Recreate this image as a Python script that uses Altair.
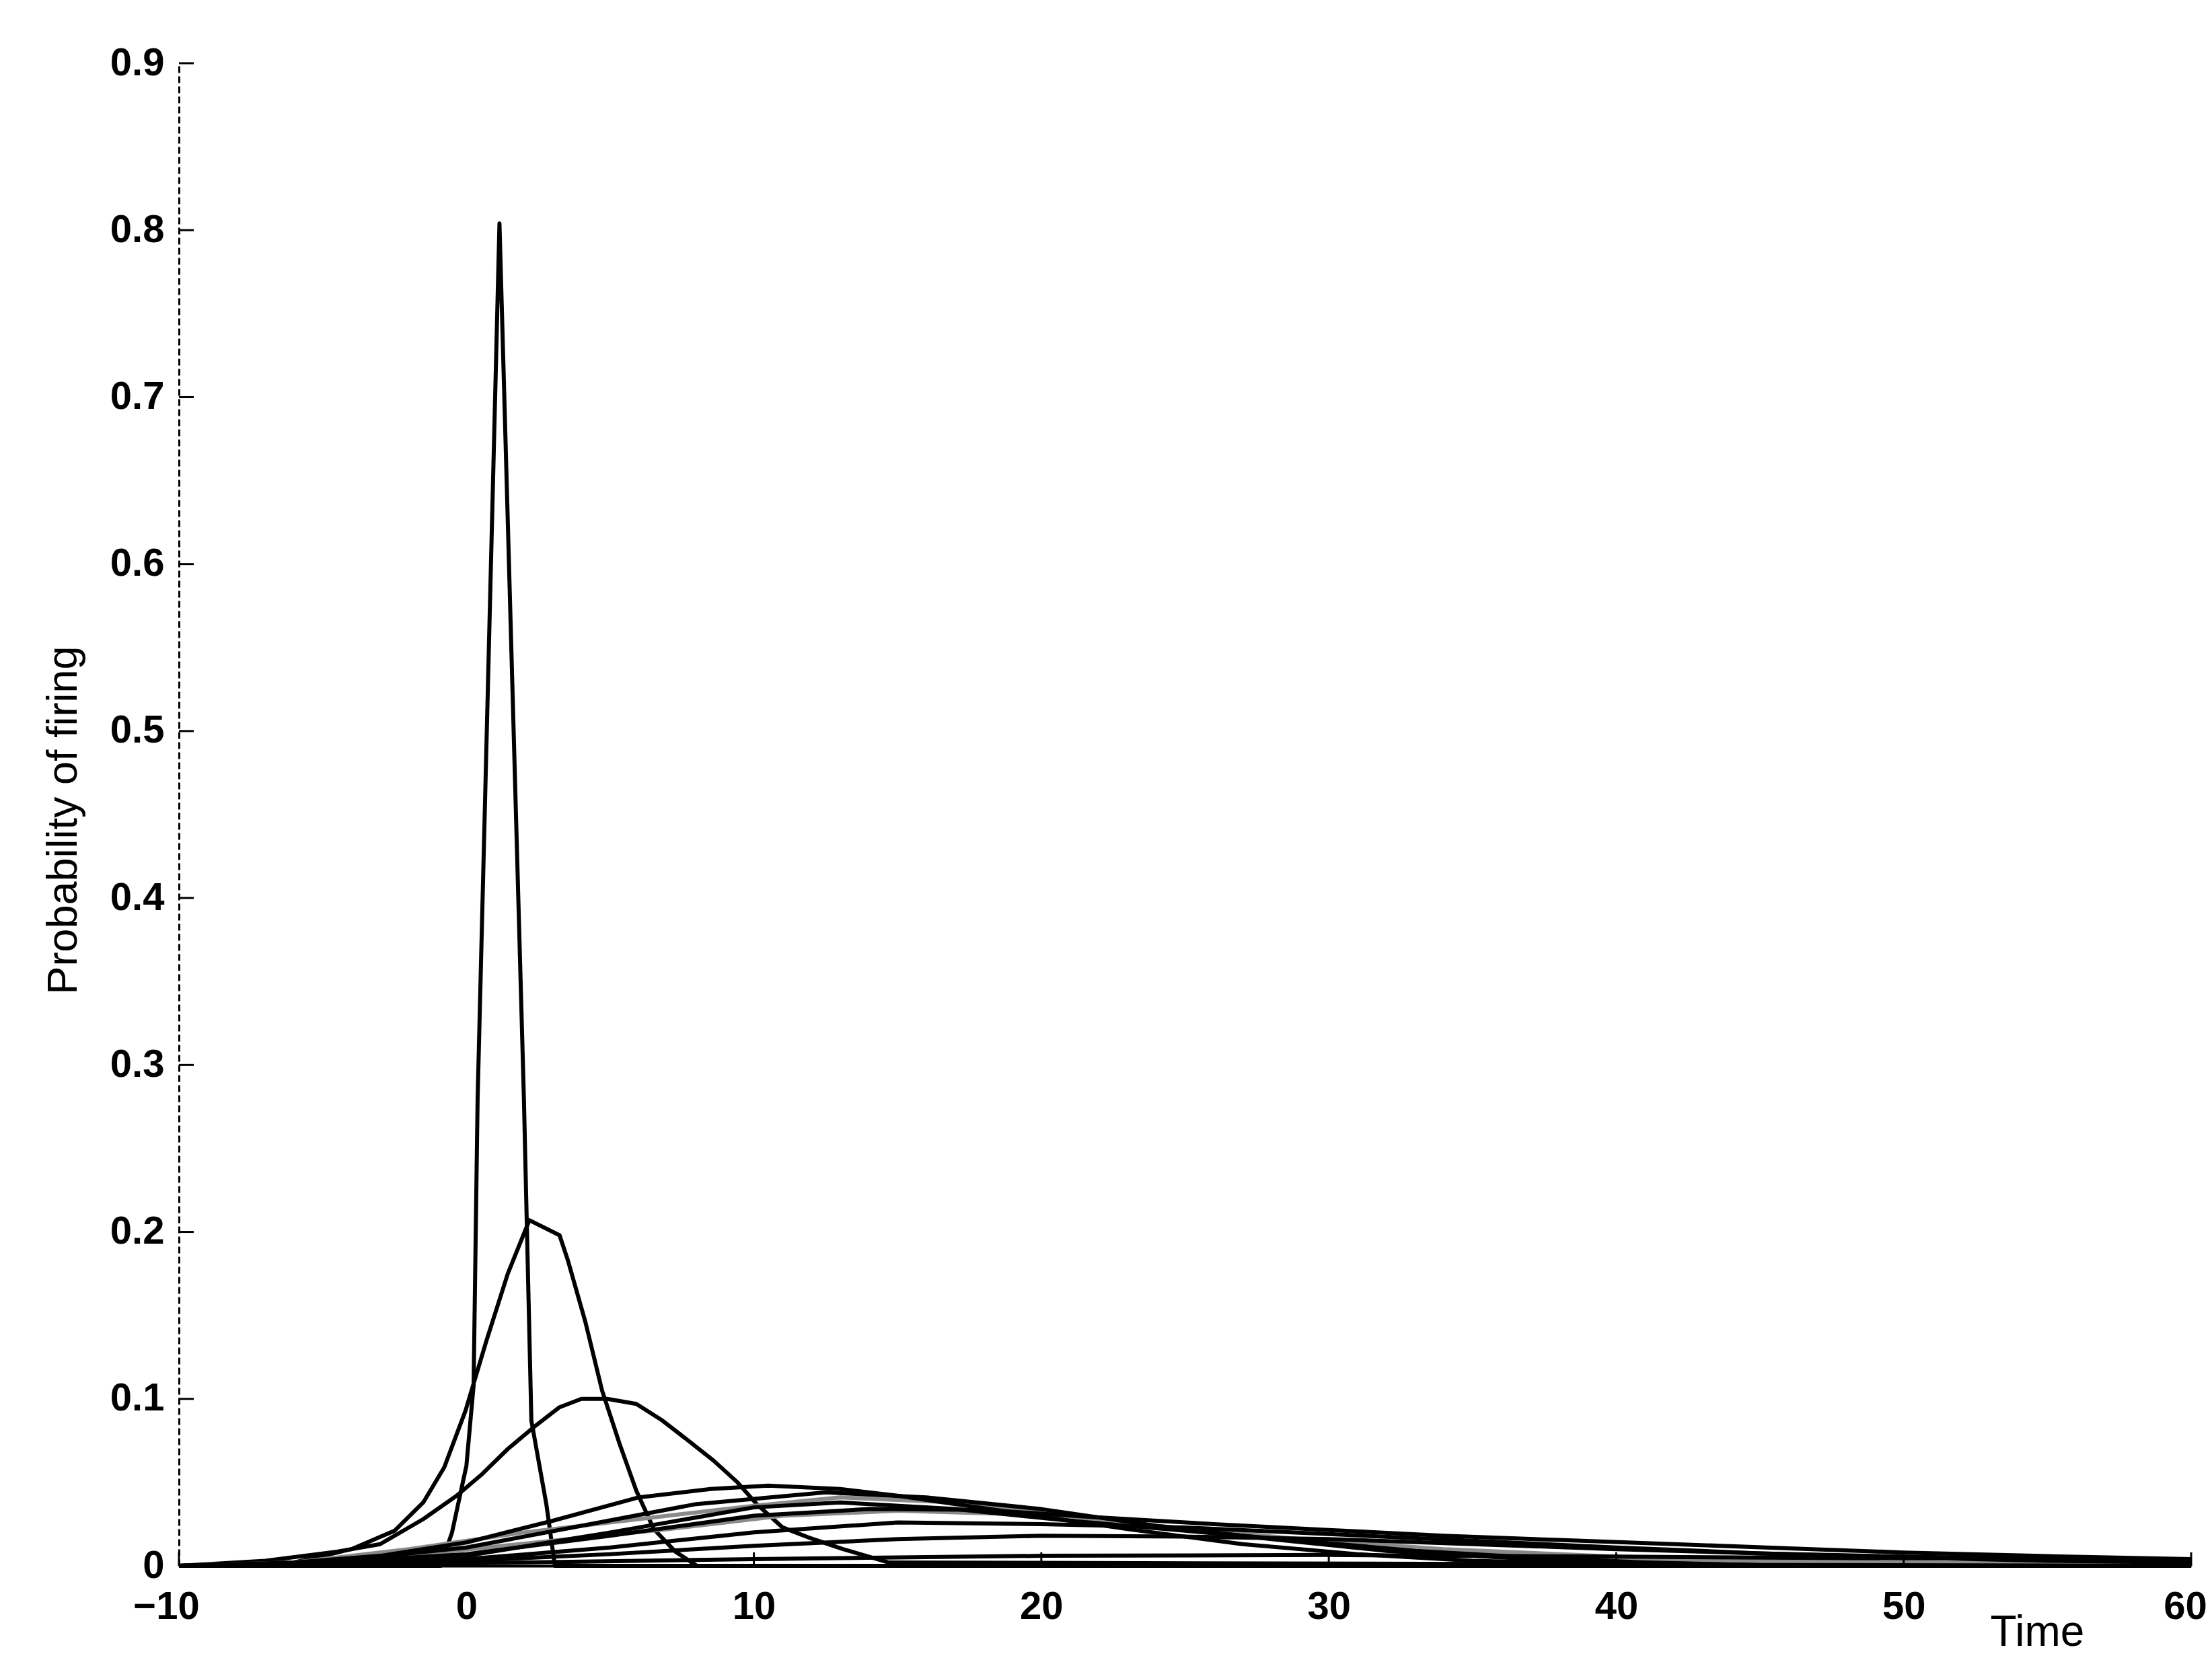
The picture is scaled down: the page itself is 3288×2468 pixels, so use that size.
import altair as alt
import pandas as pd

# ---- data (time, probability of firing) ----
spike_x = [-10, -0.9, -0.5, 0.0, 0.25, 0.39, 1.15, 2.0, 2.26, 2.78, 3.08, 60]
spike_y = [0, 0, 0.02, 0.06, 0.108, 0.28, 0.804, 0.28, 0.087, 0.037, 0, 0]

b_x = [-10, -6, -4, -2.5, -1.5, -0.77, -0.03, 0.70, 1.44, 2.19, 3.24, 3.53, 4.14, 4.72, 5.33, 5.91, 6.52, 7.27, 8.02, 60]
b_y = [0, 0.002, 0.010, 0.021, 0.038, 0.059, 0.093, 0.135, 0.175, 0.207, 0.198, 0.183, 0.146, 0.105, 0.073, 0.045, 0.022, 0.0085, 0, 0]

c_x = [-10, -7, -4.5, -3.0, -1.5, -0.34, 0.55, 1.44, 2.34, 3.24, 4.0, 4.9, 5.91, 6.82, 7.72, 8.6, 9.43, 10.1, 11.0, 11.9, 13.1, 14.7, 60]
c_y = [0, 0.003, 0.0085, 0.013, 0.028, 0.042, 0.055, 0.070, 0.083, 0.095, 0.1, 0.1, 0.097, 0.087, 0.075, 0.063, 0.050, 0.037, 0.023, 0.017, 0.010, 0.002, 0]

f1_x = [-10, -6, -3, 0, 3, 6, 8.5, 10.5, 13, 15, 19, 23, 27, 31, 35, 40, 45, 60]
f1_y = [0, 0.002, 0.006, 0.014, 0.027, 0.041, 0.046, 0.048, 0.046, 0.042, 0.032, 0.022, 0.013, 0.007, 0.003, 0.001, 0, 0]

f2_x = [-10, -5, 0, 4, 8, 12.5, 16, 20, 24, 28, 32, 36, 40, 45, 60]
f2_y = [0, 0.002, 0.011, 0.024, 0.037, 0.044, 0.041, 0.034, 0.024, 0.016, 0.009, 0.005, 0.002, 0.0005, 0]

f3_x = [-10, -5, 0, 5, 10, 14, 18, 22, 26, 30, 34, 38, 42, 46, 50, 55, 60]
f3_y = [0, 0.002, 0.007, 0.018, 0.030, 0.034, 0.0335, 0.029, 0.025, 0.0215, 0.018, 0.0155, 0.013, 0.0105, 0.008, 0.0058, 0.004]

f4_x = [-10, -5, 0, 5, 10, 13, 17, 21, 25, 29, 33, 37, 41, 46, 60]
f4_y = [0, 0.001, 0.006, 0.020, 0.035, 0.038, 0.034, 0.027, 0.021, 0.015, 0.009, 0.005, 0.002, 0, 0]

f5_x = [-10, -5, 0, 5, 10, 15, 20, 25, 30, 35, 40, 45, 50, 55, 60]
f5_y = [0, 0.001, 0.004, 0.011, 0.020, 0.026, 0.025, 0.023, 0.019, 0.015, 0.011, 0.0075, 0.005, 0.003, 0.002]

f6_x = [-10, -5, 0, 5, 10, 15, 20, 25, 30, 35, 40, 45, 50, 55, 60]
f6_y = [0, 0.0007, 0.003, 0.007, 0.012, 0.016, 0.018, 0.0175, 0.016, 0.013, 0.010, 0.0075, 0.0055, 0.004, 0.003]

f7_x = [-10, -5, 0, 10, 20, 30, 40, 50, 60]
f7_y = [0, 0.0005, 0.0015, 0.004, 0.006, 0.0065, 0.0055, 0.0045, 0.0035]

g1_x = [-10, -6, -2, 2, 6, 10, 13, 17, 21, 26, 31, 36, 41, 48, 60]
g1_y = [0, 0.002, 0.010, 0.020, 0.028, 0.036, 0.041, 0.038, 0.030, 0.020, 0.012, 0.007, 0.004, 0.002, 0.001]

g2_x = [-10, -5, -1, 3, 7, 11, 15, 19, 24, 29, 34, 40, 46, 52, 60]
g2_y = [0, 0.002, 0.008, 0.015, 0.022, 0.030, 0.033, 0.031, 0.024, 0.016, 0.010, 0.0055, 0.003, 0.0015, 0.001]

curves = [
    ("spike", "black", spike_x, spike_y),
    ("b", "black", b_x, b_y),
    ("c", "black", c_x, c_y),
    ("g1", "gray", g1_x, g1_y),
    ("g2", "gray", g2_x, g2_y),
    ("f1", "black", f1_x, f1_y),
    ("f2", "black", f2_x, f2_y),
    ("f3", "black", f3_x, f3_y),
    ("f4", "black", f4_x, f4_y),
    ("f5", "black", f5_x, f5_y),
    ("f6", "black", f6_x, f6_y),
    ("f7", "black", f7_x, f7_y),
]

x_ticks = [-10, 0, 10, 20, 30, 40, 50, 60]
y_ticks = [0, 0.1, 0.2, 0.3, 0.4, 0.5, 0.6, 0.7, 0.8, 0.9]

rows = []
for order, (name, tone, xs, ys) in enumerate(curves):
    for i, (xv, yv) in enumerate(zip(xs, ys)):
        rows.append({"curve": name, "tone": tone, "t": xv, "p": yv, "i": i})
df = pd.DataFrame(rows)

W, H = 2991, 2234
FONT = "Liberation Sans, Arial, Helvetica, sans-serif"

xscale = alt.Scale(domain=[-10, 60], nice=False, zero=False)
yscale = alt.Scale(domain=[0, 0.9], nice=False, zero=True)

x_label_offset = {
    "condition": [
        {"test": "datum.value == -10", "value": -19},
        {"test": "datum.value == 60", "value": -9},
    ],
    "value": 0,
}

lines = alt.Chart(df).mark_line(strokeWidth=6, strokeJoin="round").encode(
    x=alt.X("t:Q", scale=xscale,
            axis=alt.Axis(values=x_ticks, format="d", ticks=False, grid=False,
                          labelFontSize=58, labelFont=FONT, labelFontWeight="bold",
                          labelColor="black", labelFlush=False, labelOverlap=False,
                          labelOffset=x_label_offset,
                          labelPadding=32, domainColor="black", domainWidth=4,
                          title="Time", titleFont=FONT, titleFontSize=64,
                          titleFontWeight="normal", titleColor="black",
                          titleX=2762, titleY=118, titleBaseline="alphabetic",
                          titleAlign="center")),
    y=alt.Y("p:Q", scale=yscale,
            axis=alt.Axis(values=y_ticks, format=".1~f", ticks=False, grid=False,
                          labelFontSize=58, labelFont=FONT, labelFontWeight="bold",
                          labelColor="black", labelOverlap=False,
                          labelPadding=22, domainColor="black", domainWidth=3,
                          domainDash=[10, 5],
                          title="Probability of firing", titleFont=FONT, titleFontSize=63,
                          titleFontWeight="normal", titleColor="black",
                          titleX=-140, titleY=1125, titleAngle=-90,
                          titleBaseline="bottom", titleAlign="center")),
    detail="curve:N",
    order="i:Q",
    color=alt.Color("tone:N", scale=alt.Scale(domain=["black", "gray"], range=["#000000", "#8a8a8a"]),
                    legend=None),
)

xt = pd.DataFrame({"t": x_ticks})
yt = pd.DataFrame({"p": y_ticks})

xtick_marks = alt.Chart(xt).mark_rule(color="black", strokeWidth=3).encode(
    x=alt.X("t:Q", scale=xscale),
    y=alt.value(H),
    y2=alt.value(H - 20),
)
ytick_marks = alt.Chart(yt).mark_rule(color="black", strokeWidth=3).encode(
    y=alt.Y("p:Q", scale=yscale),
    x=alt.value(0),
    x2=alt.value(22),
)

chart = alt.layer(lines, xtick_marks, ytick_marks).properties(
    width=W, height=H,
    autosize=alt.AutoSizeParams(type="none"),
    padding={"left": 266, "top": 94, "right": 31, "bottom": 140},
    background="white",
).configure_view(stroke=None)

chart.save("out.html", embed_options={"renderer": "svg", "actions": False})
